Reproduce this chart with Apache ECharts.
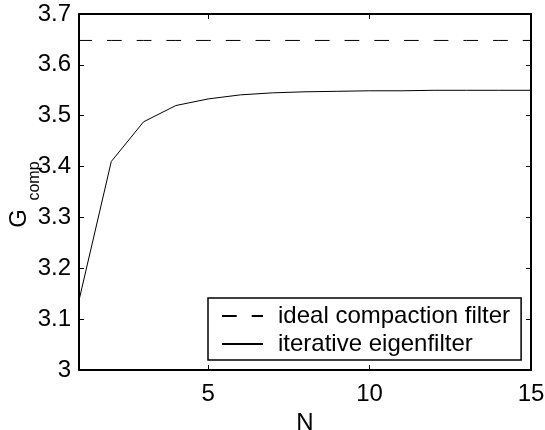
<!DOCTYPE html>
<html>
<head>
<meta charset="utf-8">
<script src="https://cdn.jsdelivr.net/npm/echarts@6/dist/echarts.min.js"></script>
<style>
  html, body { margin: 0; padding: 0; background: #fff; }
  #chart { width: 545px; height: 430px; }
</style>
</head>
<body>
<div id="chart"></div>
<script>
// values
var nValues = [1, 2, 3, 4, 5, 6, 7, 8, 9, 10, 11, 12, 13, 14, 15]
var iterative = [3.137, 3.41, 3.488, 3.52, 3.533, 3.541, 3.545, 3.547, 3.548, 3.549, 3.549, 3.55, 3.55, 3.55, 3.55]
var ideal = [3.648, 3.648, 3.648, 3.648, 3.648, 3.648, 3.648, 3.648, 3.648, 3.648, 3.648, 3.648, 3.648, 3.648, 3.648]
var xTicks = [5, 10, 15]

var font = 'Liberation Sans, Arial, sans-serif'

function pairs(ys) {
  return nValues.map(function (n, i) { return [n, ys[i]] })
}

var chart = echarts.init(document.getElementById('chart'))

var axisLine = { show: true, onZero: false, lineStyle: { color: '#000', width: 2 } }
var tick = { show: true, inside: true, length: 5, lineStyle: { color: '#000', width: 1 } }

chart.setOption({
  animation: false,
  backgroundColor: '#fff',
  grid: { left: 79, right: 14, top: 14, bottom: 60, containLabel: false, outerBoundsMode: 'none' },
  xAxis: [
    {
      type: 'value', min: 1, max: 15, position: 'bottom',
      name: 'N', nameLocation: 'middle', nameGap: 33,
      nameTextStyle: { color: '#000', fontSize: 24, fontFamily: font },
      axisLine: axisLine,
      axisTick: Object.assign({ customValues: xTicks }, tick),
      axisLabel: { customValues: xTicks, color: '#000', fontSize: 24, fontFamily: font, margin: 12 },
      splitLine: { show: false }
    },
    {
      type: 'value', min: 1, max: 15, position: 'top',
      axisLine: axisLine,
      axisTick: Object.assign({ customValues: xTicks }, tick),
      axisLabel: { show: false },
      splitLine: { show: false }
    }
  ],
  yAxis: [
    {
      type: 'value', min: 3, max: 3.7, interval: 0.1, position: 'left',
      axisLine: axisLine,
      axisTick: tick,
      axisLabel: { color: '#000', fontSize: 24, fontFamily: font, margin: 8 },
      splitLine: { show: false }
    },
    {
      type: 'value', min: 3, max: 3.7, interval: 0.1, position: 'right',
      axisLine: axisLine,
      axisTick: tick,
      axisLabel: { show: false },
      splitLine: { show: false }
    }
  ],
  legend: {
    orient: 'vertical',
    left: 208,
    top: 298,
    padding: [5, 11, 3, 13],
    itemGap: 2,
    itemWidth: 41,
    itemHeight: 14,
    borderColor: '#000',
    borderWidth: 1.5,
    borderRadius: 0,
    backgroundColor: '#fff',
    itemStyle: { opacity: 0 },
    lineStyle: { dashOffset: 0 },
    textStyle: { color: '#000', fontSize: 24, fontFamily: font, lineHeight: 26, padding: [0, 0, 0, 10] },
    data: ['ideal compaction filter', 'iterative eigenfilter']
  },
  graphic: [
    {
      type: 'text', x: 19.5, y: 218.5, rotation: Math.PI / 2,
      style: { text: 'G', fill: '#000', fontSize: 24, fontFamily: font, align: 'center', verticalAlign: 'middle' }
    },
    {
      type: 'text', x: 35, y: 181, rotation: Math.PI / 2,
      style: { text: 'comp', fill: '#000', fontSize: 16, fontFamily: font, align: 'center', verticalAlign: 'middle' }
    }
  ],
  series: [
    {
      name: 'ideal compaction filter',
      type: 'line',
      data: pairs(ideal),
      showSymbol: false,
      symbol: 'none',
      lineStyle: { color: '#000', width: 1, type: [14.7, 15], dashOffset: 1.7 },
      itemStyle: { color: '#000' }
    },
    {
      name: 'iterative eigenfilter',
      type: 'line',
      data: pairs(iterative),
      showSymbol: false,
      symbol: 'none',
      lineStyle: { color: '#000', width: 1 },
      itemStyle: { color: '#000' }
    }
  ]
})
</script>
</body>
</html>
